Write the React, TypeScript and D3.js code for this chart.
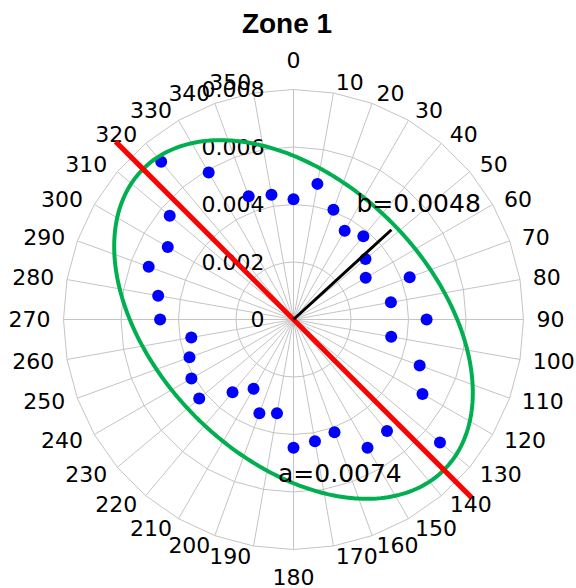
import { useEffect } from "react";
import * as d3 from "d3";

// directions (deg, clockwise from north)
const ANGLES = [
  0, 10, 20, 30, 40, 50, 60, 70, 80, 90, 100, 110, 120, 130, 140, 150, 160, 170,
  180, 190, 200, 210, 220, 230, 240, 250, 260, 270, 280, 290, 300, 310, 320, 330, 340, 350,
];
// measured values for Zone 1
const VALUES = [
  0.00418, 0.00479, 0.00406, 0.00356, 0.00378, 0.00327, 0.0029, 0.0043, 0.00344,
  0.00463, 0.00345, 0.00467, 0.00518, 0.00665, 0.00506, 0.00515, 0.00417, 0.0043,
  0.00446, 0.00331, 0.00347, 0.00278, 0.0033, 0.00428, 0.0041, 0.00385, 0.00361,
  0.00464, 0.00478, 0.00536, 0.00505, 0.00562, 0.00716, 0.0059, 0.00456, 0.00441,
];
const R_TICKS = [0, 0.002, 0.004, 0.006, 0.008];
const R_LABELS = ["0", "0.002", "0.004", "0.006", "0.008"];

// fitted ellipse
const ELL_A = 0.0074;
const ELL_B = 0.0048;
const MAJOR_DIR = 135;
const AXIS_LEN = 0.00875;
// black minor-axis marker as drawn
const MINOR_DIR = 47.5;
const MINOR_LEN = 0.00462;

const W = 576;
const H = 588;
const cx = 293.5;
const cy = 319.5;
const R = 230;

const rad = (d: number) => (d * Math.PI) / 180;

export default function App() {
  useEffect(() => {
    document.body.style.margin = "0";
  }, []);

  const r = d3.scaleLinear().domain([0, 0.008]).range([0, R]);
  const px = (deg: number, v: number) => cx + r(v) * Math.sin(rad(deg));
  const py = (deg: number, v: number) => cy - r(v) * Math.cos(rad(deg));

  const ring = d3
    .lineRadial<number>()
    .angle((d) => rad(d))
    .curve(d3.curveLinearClosed);

  const ellPts = d3.range(0, 360, 1);
  const ellipse = d3
    .lineRadial<number>()
    .angle((d) => rad(d))
    .radius((d) => {
      const phi = rad(d - MAJOR_DIR);
      return r(
        (ELL_A * ELL_B) /
          Math.sqrt((ELL_B * Math.cos(phi)) ** 2 + (ELL_A * Math.sin(phi)) ** 2)
      );
    })
    .curve(d3.curveLinearClosed);

  const font = "'DejaVu Sans', sans-serif";
  const grid = "#c4c4c4";

  return (
    <svg width={W} height={H} style={{ display: "block", background: "#fff" }}>
      <text
        x={287}
        y={33}
        textAnchor="middle"
        fontFamily="'Liberation Sans', Arial, sans-serif"
        fontWeight="bold"
        fontSize={28}
      >
        Zone 1
      </text>

      <g transform={`translate(${cx},${cy})`} fill="none" stroke={grid} strokeWidth={1}>
        {R_TICKS.slice(1).map((t) => (
          <path key={t} d={ring.radius(r(t))(ANGLES) || ""} />
        ))}
        {ANGLES.map((a) => (
          <line key={a} x1={0} y1={0} x2={R * Math.sin(rad(a))} y2={-R * Math.cos(rad(a))} />
        ))}
      </g>

      {/* angle labels */}
      <g fontFamily={font} fontSize={22} fill="#000">
        {ANGLES.map((a) => {
          if (a === 0)
            return (
              <text key={a} x={cx} y={cy - R - 21.5} textAnchor="middle">
                {a}
              </text>
            );
          if (a === 180)
            return (
              <text key={a} x={cx} y={cy + R + 35} textAnchor="middle">
                {a}
              </text>
            );
          return (
            <text
              key={a}
              x={cx + (R + 13) * Math.sin(rad(a))}
              y={cy - (R + 11) * Math.cos(rad(a))}
              textAnchor={a < 180 ? "start" : "end"}
              dominantBaseline="central"
            >
              {a}
            </text>
          );
        })}
      </g>

      {/* radial labels */}
      <g fontFamily={font} fontSize={22} fill="#000">
        {R_TICKS.map((t, i) => (
          <text key={t} x={cx - 29} y={cy - r(t)} textAnchor="end" dominantBaseline="central">
            {R_LABELS[i]}
          </text>
        ))}
      </g>

      {/* measured points */}
      <g fill="#0000ff">
        {ANGLES.map((a, i) => (
          <circle key={a} cx={px(a, VALUES[i])} cy={py(a, VALUES[i])} r={6} />
        ))}
      </g>

      <path
        transform={`translate(${cx},${cy})`}
        d={ellipse(ellPts) || ""}
        fill="none"
        stroke="#00b050"
        strokeWidth={4}
      />

      <line
        x1={px(MAJOR_DIR + 180, AXIS_LEN)}
        y1={py(MAJOR_DIR + 180, AXIS_LEN)}
        x2={px(MAJOR_DIR, AXIS_LEN)}
        y2={py(MAJOR_DIR, AXIS_LEN)}
        stroke="#ff0000"
        strokeWidth={5}
      />
      <line
        x1={cx}
        y1={cy}
        x2={px(MINOR_DIR, MINOR_LEN)}
        y2={py(MINOR_DIR, MINOR_LEN)}
        stroke="#000"
        strokeWidth={3}
      />

      <g fontFamily={font} fontSize={25} fill="#000">
        <text x={cx + 63} y={cy - 108}>
          b={ELL_B.toFixed(4)}
        </text>
        <text x={cx - 15.5} y={cy + 162}>
          a={ELL_A.toFixed(4)}
        </text>
      </g>
    </svg>
  );
}
